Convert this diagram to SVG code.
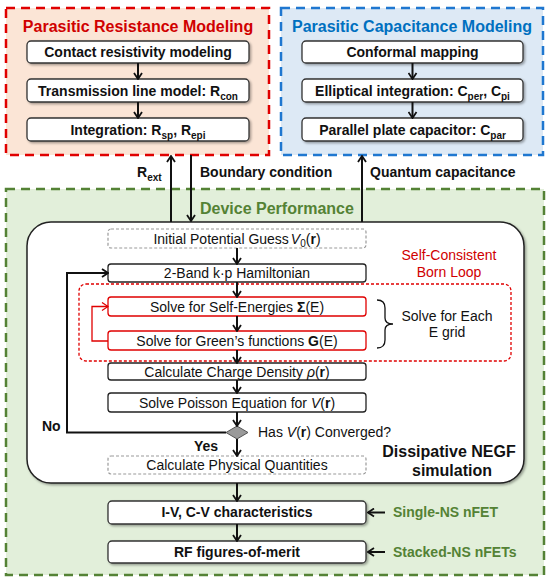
<svg xmlns="http://www.w3.org/2000/svg" width="550" height="584" viewBox="0 0 550 584">
<defs>
<style>
text{font-family:"Liberation Sans",Arial,sans-serif;}
.title{font-size:16px;font-weight:bold;text-anchor:middle;}
.bt{font-size:14px;font-weight:bold;text-anchor:middle;fill:#111;}
.nt{font-size:14px;text-anchor:middle;fill:#111;}
.lbl{font-size:14px;font-weight:bold;fill:#111;}
.big{font-size:16px;font-weight:bold;fill:#111;text-anchor:middle;}
.green{fill:#548235;}
.sub{font-size:10px;}
.wbox{fill:#fff;stroke:#333;stroke-width:1.3;filter:url(#sh);}
.nbox{fill:#fff;stroke:#222;stroke-width:1.3;}
.rbox{fill:#fff;stroke:#e00000;stroke-width:1.3;}
.dbox{fill:#fff;stroke:#9a9a9a;stroke-width:1.2;stroke-dasharray:3,2;}
.conn{fill:none;stroke:#111;stroke-width:2;marker-end:url(#arr);}
</style>
<filter id="sh" x="-10%" y="-20%" width="120%" height="150%">
<feDropShadow dx="1.5" dy="1.5" stdDeviation="1" flood-color="#000" flood-opacity="0.35"/>
</filter>
<marker id="arr" viewBox="0 0 8 10" refX="7" refY="5" markerWidth="8" markerHeight="10" markerUnits="userSpaceOnUse" orient="auto">
<path d="M1,1 L7,5 L1,9" fill="none" stroke="#111" stroke-width="1.8"/>
</marker>
<marker id="arrR" viewBox="0 0 8 10" refX="7" refY="5" markerWidth="8" markerHeight="10" markerUnits="userSpaceOnUse" orient="auto">
<path d="M1,1 L7,5 L1,9" fill="none" stroke="#e00000" stroke-width="1.3"/>
</marker>
</defs>

<!-- Background panels -->
<g id="panel-resistance">
<rect x="6" y="8" width="263" height="147" fill="#fbe5d6" stroke="#e00000" stroke-width="2.5" stroke-dasharray="9,6"/>
<text class="title" x="138" y="32" fill="#d00000">Parasitic Resistance Modeling</text>
</g>
<g id="panel-capacitance">
<rect x="281" y="8" width="262" height="147" fill="#dde9f5" stroke="#1f77d0" stroke-width="2.5" stroke-dasharray="9,6"/>
<text class="title" x="412" y="32" fill="#0070c0">Parasitic Capacitance Modeling</text>
</g>
<g id="panel-device">
<rect x="6" y="189" width="538" height="386" fill="#e2efda" stroke="#548235" stroke-width="2.5" stroke-dasharray="9,6"/>
<text x="200" y="214" font-size="16" font-weight="bold" fill="#548235">Device Performance</text>
</g>
<g id="negf-panel">
<rect x="27" y="222" width="497" height="261" rx="24" fill="#fff" stroke="#222" stroke-width="1.5" filter="url(#sh)"/>
<text class="big" x="449" y="457">Dissipative NEGF</text>
<text class="big" x="452" y="476">simulation</text>
</g>
<g id="born-loop">
<rect x="79" y="284" width="432" height="77" rx="7" fill="none" stroke="#e00000" stroke-width="1.3" stroke-dasharray="3,2"/>
<text x="449" y="260" font-size="14" fill="#d00000" text-anchor="middle">Self-Consistent</text>
<text x="449" y="277" font-size="14" fill="#d00000" text-anchor="middle">Born Loop</text>
</g>

<!-- Resistance nodes -->
<g id="contact-resistivity">
<rect class="wbox" x="27" y="41" width="222" height="22" rx="4"/>
<text class="bt" x="138" y="57">Contact resistivity modeling</text>
</g>
<g id="transmission-line">
<rect class="wbox" x="27" y="79" width="222" height="23" rx="4"/>
<text class="bt" x="138" y="95.5">Transmission line model: R<tspan class="sub" dy="4">con</tspan></text>
</g>
<g id="integration-r">
<rect class="wbox" x="27" y="118" width="222" height="23" rx="4"/>
<text class="bt" x="138" y="134.5">Integration: R<tspan class="sub" dy="4">sp</tspan><tspan dy="-4">, R</tspan><tspan class="sub" dy="4">epi</tspan></text>
</g>

<!-- Capacitance nodes -->
<g id="conformal-mapping">
<rect class="wbox" x="302" y="41" width="221" height="22" rx="4"/>
<text class="bt" x="412.5" y="57">Conformal mapping</text>
</g>
<g id="elliptical-integration">
<rect class="wbox" x="302" y="79" width="221" height="23" rx="4"/>
<text class="bt" x="412.5" y="95.5">Elliptical integration: C<tspan class="sub" dy="4">per</tspan><tspan dy="-4">, C</tspan><tspan class="sub" dy="4">pi</tspan></text>
</g>
<g id="parallel-plate">
<rect class="wbox" x="302" y="118" width="221" height="23" rx="4"/>
<text class="bt" x="412.5" y="134.5">Parallel plate capacitor: C<tspan class="sub" dy="4">par</tspan></text>
</g>

<!-- NEGF nodes -->
<g id="initial-guess">
<rect class="dbox" x="108" y="229" width="258" height="19" rx="3"/>
<text class="nt" x="237" y="244">Initial Potential Guess<tspan dx="2" font-style="italic">V</tspan><tspan font-size="10" dy="3">0</tspan><tspan dy="-3">(</tspan><tspan font-weight="bold">r</tspan>)</text>
</g>
<g id="hamiltonian">
<rect class="nbox" x="108" y="264" width="258" height="18" rx="3"/>
<text class="nt" x="237" y="278">2-Band k·p Hamiltonian</text>
</g>
<g id="self-energies">
<rect class="rbox" x="108" y="297" width="258" height="19" rx="3"/>
<text class="nt" x="237" y="311.5">Solve for Self-Energies <tspan font-weight="bold">Σ</tspan>(E)</text>
</g>
<g id="greens-functions">
<rect class="rbox" x="108" y="331" width="258" height="19" rx="3"/>
<text class="nt" x="237" y="345.5">Solve for Green’s functions <tspan font-weight="bold">G</tspan>(E)</text>
</g>
<g id="each-e-grid">
<path d="M377,300 Q385,300 385,308 L385,318 Q385,324 393,324 Q385,324 385,330 L385,340 Q385,348 377,348" fill="none" stroke="#111" stroke-width="1.3"/>
<text class="nt" x="447" y="321">Solve for Each</text>
<text class="nt" x="447" y="337">E grid</text>
</g>
<g id="charge-density">
<rect class="nbox" x="108" y="363" width="258" height="17" rx="3"/>
<text class="nt" x="237" y="376.5">Calculate Charge Density <tspan font-style="italic">ρ</tspan>(<tspan font-weight="bold">r</tspan>)</text>
</g>
<g id="poisson">
<rect class="nbox" x="108" y="393" width="258" height="19" rx="3"/>
<text class="nt" x="237" y="407.5">Solve Poisson Equation for <tspan font-style="italic">V</tspan>(<tspan font-weight="bold">r</tspan>)</text>
</g>
<g id="converged">
<polygon points="237,426 248,432.5 237,439 226,432.5" fill="#9a9a9a" stroke="#555" stroke-width="1"/>
<text x="258" y="437" font-size="14" fill="#111">Has <tspan font-style="italic">V</tspan>(<tspan font-weight="bold">r</tspan>) Converged?</text>
</g>
<g id="physical-quantities">
<rect class="dbox" x="108" y="456" width="258" height="18" rx="3"/>
<text class="nt" x="237" y="470">Calculate Physical Quantities</text>
</g>

<!-- Output nodes -->
<g id="iv-cv">
<rect class="wbox" x="108" y="501" width="258" height="23" rx="4"/>
<text class="bt" x="237" y="517">I-V, C-V characteristics</text>
</g>
<g id="rf-fom">
<rect class="wbox" x="108" y="541" width="258" height="22" rx="4"/>
<text class="bt" x="237" y="557">RF figures-of-merit</text>
</g>
<g id="single-ns">
<text class="lbl green" x="393" y="517">Single-NS nFET</text>
</g>
<g id="stacked-ns">
<text class="lbl green" x="393" y="557">Stacked-NS nFETs</text>
</g>

<!-- Connectors -->
<g id="connectors">
<line class="conn" x1="138" y1="63" x2="138" y2="79"/>
<line class="conn" x1="138" y1="102" x2="138" y2="118"/>
<line class="conn" x1="412.5" y1="63" x2="412.5" y2="79"/>
<line class="conn" x1="412.5" y1="102" x2="412.5" y2="118"/>
<line class="conn" x1="171" y1="222" x2="171" y2="156"/>
<line class="conn" x1="191" y1="155" x2="191" y2="221"/>
<line class="conn" x1="362" y1="222" x2="362" y2="156"/>
<line class="conn" x1="237" y1="248" x2="237" y2="264"/>
<line class="conn" x1="237" y1="282" x2="237" y2="297"/>
<line class="conn" x1="237" y1="316" x2="237" y2="331"/>
<line class="conn" x1="237" y1="350" x2="237" y2="363"/>
<line class="conn" x1="237" y1="380" x2="237" y2="393"/>
<line class="conn" x1="237" y1="412" x2="237" y2="426"/>
<line class="conn" x1="237" y1="439" x2="237" y2="456"/>
<line class="conn" x1="237" y1="483" x2="237" y2="501"/>
<line class="conn" x1="237" y1="524" x2="237" y2="541"/>
<path class="conn" d="M226,432.5 H67 V273 H108"/>
<path d="M108,341 H92 V306.5 H108" fill="none" stroke="#e00000" stroke-width="1.3" marker-end="url(#arrR)"/>
<line class="conn" x1="385" y1="512.5" x2="368" y2="512.5"/>
<line class="conn" x1="385" y1="552" x2="368" y2="552"/>
<text class="lbl" x="137" y="177">R<tspan class="sub" dy="4">ext</tspan></text>
<text class="lbl" x="200" y="177">Boundary condition</text>
<text class="lbl" x="370" y="177">Quantum capacitance</text>
<text class="lbl" x="42" y="431">No</text>
<text class="lbl" x="194" y="451">Yes</text>
</g>
</svg>
